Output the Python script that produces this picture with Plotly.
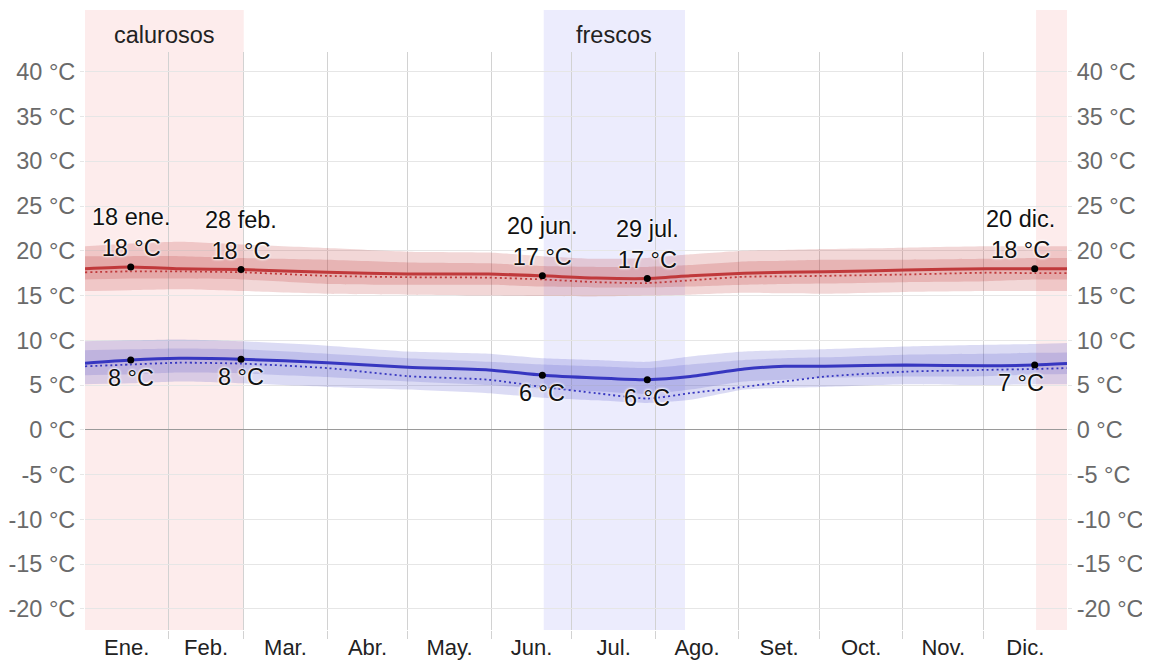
import plotly.graph_objects as go

# ---------------- data ----------------
days = [0, 17, 35, 58, 90, 120, 150, 170, 190, 209, 225, 245, 260, 275, 305, 335, 353, 365]

high_mean = [18.0, 18.2, 18.0, 17.9, 17.6, 17.4, 17.4, 17.2, 16.95, 16.9, 17.2, 17.5, 17.6, 17.65, 17.85, 18.0, 18.0, 18.0]
high_p90  = [20.5, 20.8, 21.0, 20.7, 20.3, 19.9, 19.8, 19.4, 19.1, 19.2, 19.6, 20.0, 20.1, 20.2, 20.35, 20.5, 20.5, 20.5]
high_p10  = [15.5, 15.6, 15.7, 15.5, 15.2, 15.1, 15.0, 14.95, 14.9, 15.0, 15.1, 15.3, 15.25, 15.2, 15.4, 15.5, 15.5, 15.5]
high_p75  = [19.4, 19.4, 19.4, 19.2, 19.0, 18.7, 18.6, 18.3, 18.2, 18.2, 18.4, 18.8, 18.9, 19.0, 19.0, 19.1, 19.2, 19.2]
high_p25  = [16.8, 16.9, 16.9, 16.8, 16.3, 16.2, 16.2, 16.0, 15.9, 15.9, 16.0, 16.2, 16.3, 16.35, 16.5, 16.6, 16.8, 16.8]
high_feel = [17.6, 17.7, 17.7, 17.6, 17.2, 17.05, 17.0, 16.8, 16.5, 16.4, 16.7, 17.1, 17.15, 17.2, 17.35, 17.55, 17.5, 17.5]

low_mean = [7.45, 7.8, 8.0, 7.9, 7.5, 7.0, 6.7, 6.1, 5.8, 5.6, 5.95, 6.8, 7.1, 7.1, 7.25, 7.15, 7.25, 7.4]
low_p90  = [9.9, 10.0, 10.1, 9.9, 9.4, 8.75, 8.5, 8.0, 7.8, 7.6, 8.2, 8.75, 8.9, 9.0, 9.3, 9.5, 9.6, 9.7]
low_p10  = [5.1, 5.2, 5.4, 5.2, 4.8, 4.5, 4.1, 3.6, 3.3, 3.0, 3.35, 4.5, 4.7, 4.8, 5.1, 5.0, 5.1, 5.1]
low_p75  = [8.9, 9.0, 9.1, 9.0, 8.5, 8.0, 7.6, 7.3, 7.1, 6.9, 7.3, 7.8, 8.0, 8.1, 8.4, 8.5, 8.6, 8.65]
low_p25  = [6.1, 6.2, 6.4, 6.3, 5.9, 5.4, 5.0, 4.6, 4.3, 4.0, 4.5, 5.4, 5.6, 5.8, 5.95, 6.0, 6.2, 6.25]
low_feel = [7.1, 7.3, 7.5, 7.4, 6.9, 6.0, 5.6, 4.8, 4.1, 3.5, 4.1, 4.8, 5.4, 5.95, 6.5, 6.7, 6.8, 6.9]

key_days   = [17, 58, 170, 209, 353]
key_dates  = ["18 ene.", "28 feb.", "20 jun.", "29 jul.", "20 dic."]
key_high   = [18.2, 17.9, 17.2, 16.9, 18.0]
key_low    = [7.8, 7.9, 6.1, 5.6, 7.25]
key_high_t = [18, 18, 17, 17, 18]
key_low_t  = [8, 8, 6, 6, 7]

month_names = ["Ene.", "Feb.", "Mar.", "Abr.", "May.", "Jun.", "Jul.", "Ago.", "Set.", "Oct.", "Nov.", "Dic."]
month_len   = [31, 28, 31, 30, 31, 30, 31, 31, 30, 31, 30, 31]

y_ticks = [-20, -15, -10, -5, 0, 5, 10, 15, 20, 25, 30, 35, 40]

season_names  = ["calurosos", "frescos", ""]
season_starts = [0, 170.5, 353.5]
season_ends   = [59, 223, 365]
season_colors = ["#fdecec", "#ececfd", "#fdecec"]

# ---------------- derived ----------------
month_starts = []
acc = 0
for m in month_len:
    month_starts.append(acc)
    acc += m
month_mids = [s + l / 2 for s, l in zip(month_starts, month_len)]

FONT = "Liberation Sans, Arial, sans-serif"
RED = "#c0393b"
BLUE = "#3636c0"
SPL = dict(shape="spline", smoothing=0.6)

fig = go.Figure()


def band(lo, hi, color):
    fig.add_trace(go.Scatter(x=days, y=lo, mode="lines", line=dict(width=0, **SPL),
                             hoverinfo="skip", showlegend=False))
    fig.add_trace(go.Scatter(x=days, y=hi, mode="lines", line=dict(width=0, **SPL),
                             fill="tonexty", fillcolor=color, hoverinfo="skip", showlegend=False))


band(high_p10, high_p90, "rgba(192,57,57,0.20)")
band(high_p25, high_p75, "rgba(192,57,57,0.22)")
band(low_p10, low_p90, "rgba(56,56,192,0.18)")
band(low_p25, low_p75, "rgba(56,56,192,0.16)")

for ys, col in [(high_feel, RED), (low_feel, BLUE)]:
    fig.add_trace(go.Scatter(x=days, y=ys, mode="lines",
                             line=dict(color=col, width=1.8, dash="2px,3px", **SPL),
                             hoverinfo="skip", showlegend=False))
for ys, col in [(high_mean, RED), (low_mean, BLUE)]:
    fig.add_trace(go.Scatter(x=days, y=ys, mode="lines",
                             line=dict(color=col, width=3, **SPL),
                             hoverinfo="skip", showlegend=False))

fig.add_trace(go.Scatter(x=key_days + key_days, y=key_high + key_low, mode="markers",
                         marker=dict(color="black", size=7), hoverinfo="skip", showlegend=False))

# invisible trace for right axis
fig.add_trace(go.Scatter(x=[0], y=[0], yaxis="y2", mode="markers", marker=dict(opacity=0),
                         hoverinfo="skip", showlegend=False))

shadow = "0 0 3px white, 0 0 3px white, 0 0 2px white"
ann_font = dict(family=FONT, size=23.5, color="#111", shadow=shadow)
n = len(key_days)
for i, (d, date, hv, lv, ht, lt) in enumerate(zip(key_days, key_dates, key_high, key_low, key_high_t, key_low_t)):
    xs = -14 if i == n - 1 else 0
    fig.add_annotation(x=d, y=hv, text=f"{date}<br>{ht} °C", showarrow=False, xanchor="center",
                       yanchor="bottom", yshift=4, xshift=xs, font=ann_font)
    fig.add_annotation(x=d, y=lv, text=f"{lt} °C", showarrow=False, xanchor="center",
                       yanchor="top", yshift=-3, xshift=xs, font=ann_font)

# season bands
for name, s, e, c in zip(season_names, season_starts, season_ends, season_colors):
    fig.add_shape(type="rect", xref="x", yref="paper", x0=s, x1=e, y0=0, y1=1.0727,
                  fillcolor=c, line=dict(width=0), layer="below")
    if name:
        fig.add_annotation(x=(s + e) / 2, xref="x", yref="paper", y=1.030, text=name, showarrow=False,
                           xanchor="center", yanchor="middle",
                           font=dict(family=FONT, size=23.5, color="#222"))

YR = [-22.35, 42.2]
GRID = "#e6e6e6"

fig.update_layout(
    width=1142, height=653,
    margin=dict(l=77, r=83, t=44, b=31, autoexpand=False),
    plot_bgcolor="rgba(0,0,0,0)", paper_bgcolor="white",
    font=dict(family=FONT),
    xaxis=dict(range=[0, 365], tickvals=month_mids, ticktext=month_names, ticks="",
               showgrid=False, zeroline=False, showline=False, ticklabelstandoff=2,
               tickfont=dict(family=FONT, size=22, color="#222"),
               minor=dict(tickvals=month_starts[1:], showgrid=True, gridcolor="#d2d2d2", gridwidth=1,
                          ticks="outside", ticklen=8, tickcolor="#d2d2d2", tickwidth=1)),
    yaxis=dict(range=YR, tickvals=y_ticks, ticktext=[f"{v} °C" for v in y_ticks],
               showgrid=True, gridcolor=GRID, gridwidth=1, ticks="outside", ticklen=4, tickcolor=GRID,
               zeroline=True, zerolinecolor="#9a9a9a", zerolinewidth=1, showline=False,
               tickfont=dict(family=FONT, size=23.5, color="#6a6a6a")),
    yaxis2=dict(range=YR, overlaying="y", side="right", tickvals=y_ticks,
                ticktext=[f"{v} °C" for v in y_ticks], showgrid=False, zeroline=False,
                ticks="outside", ticklen=4, tickcolor=GRID, showline=False,
                tickfont=dict(family=FONT, size=23.5, color="#6a6a6a")),
)

fig.write_html("out.html")
